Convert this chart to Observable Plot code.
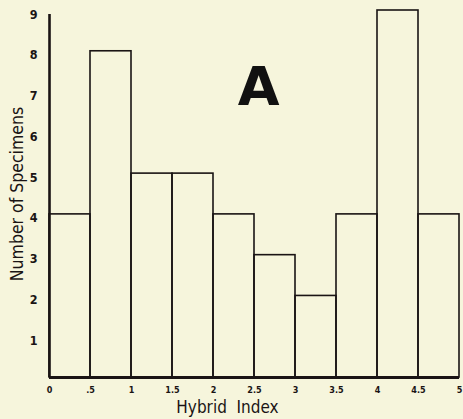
<!DOCTYPE html>
<html>
<head>
<meta charset="utf-8">
<script src="https://cdn.jsdelivr.net/npm/d3@7"></script>
<script src="https://cdn.jsdelivr.net/npm/@observablehq/plot@0.6"></script>
<style>
  html, body { margin: 0; padding: 0; background: #f6f5dc; }
  #chart svg { display: block; background: #f6f5dc; }
</style>
</head>
<body>
<div id="chart"></div>
<script>
// Histogram bins (Hybrid Index) and counts
const binStart = [0, 0.5, 1, 1.5, 2, 2.5, 3, 3.5, 4, 4.5];
const binEnd   = [0.5, 1, 1.5, 2, 2.5, 3, 3.5, 4, 4.5, 5];
const counts   = [4, 8, 5, 5, 4, 3, 2, 4, 9, 4];

const xTicks = [0, 0.5, 1, 1.5, 2, 2.5, 3, 3.5, 4, 4.5, 5];
const xTickLabels = ["0", ".5", "1", "1.5", "2", "2.5", "3", "3.5", "4", "4.5", "5"];
const yTicks = [1, 2, 3, 4, 5, 6, 7, 8, 9];

const panelLabel = ["A"];
const panelLabelX = [2.55];
const panelLabelY = [7.1];

const bars = counts.map((c, i) => ({x1: binStart[i], x2: binEnd[i], y: c}));
const font = "'DejaVu Sans Condensed', 'Liberation Sans Narrow', 'DejaVu Sans', sans-serif";

const chart = Plot.plot({
  width: 463,
  height: 419,
  marginLeft: 49,
  marginRight: 4,
  marginTop: 10,
  marginBottom: 42,
  style: {background: "#f6f5dc", fontFamily: font, color: "#1a1414"},
  x: {domain: [0, 5]},
  y: {domain: [0, 9]},
  marks: [
    Plot.rectY(bars, {x1: "x1", x2: "x2", y: "y", fill: "none", stroke: "#1a1414", strokeWidth: 1.6}),
    Plot.ruleY([0], {stroke: "#1a1414", strokeWidth: 2.8}),
    Plot.ruleX([0], {y1: 0, y2: 8.9, stroke: "#1a1414", strokeWidth: 2.6}),
    Plot.axisY({ticks: yTicks, tickSize: 0, tickPadding: 12, dy: 4, label: null, fontSize: 12.5, fontWeight: "bold"}),
    Plot.axisX({ticks: xTicks, tickFormat: (d, i) => xTickLabels[i], tickSize: 0, tickPadding: 9, label: null, fontSize: 9, fontWeight: "bold"}),
    Plot.text(["Number of Specimens"], {frameAnchor: "left", textAnchor: "middle", rotate: -90, dx: -32, fontSize: 17.5, fill: "#1a1414"}),
    Plot.text(["Hybrid  Index"], {frameAnchor: "bottom", lineAnchor: "middle", dy: 30, dx: -27, fontSize: 17, fill: "#1a1414", style: "letter-spacing:2px"}),
    Plot.text(panelLabel, {x: (d, i) => panelLabelX[i], y: (d, i) => panelLabelY[i], fontSize: 54, fontWeight: "bold", fontFamily: "'DejaVu Sans', sans-serif", fill: "#111"})
  ]
});
document.getElementById("chart").appendChild(chart);
</script>
</body>
</html>
